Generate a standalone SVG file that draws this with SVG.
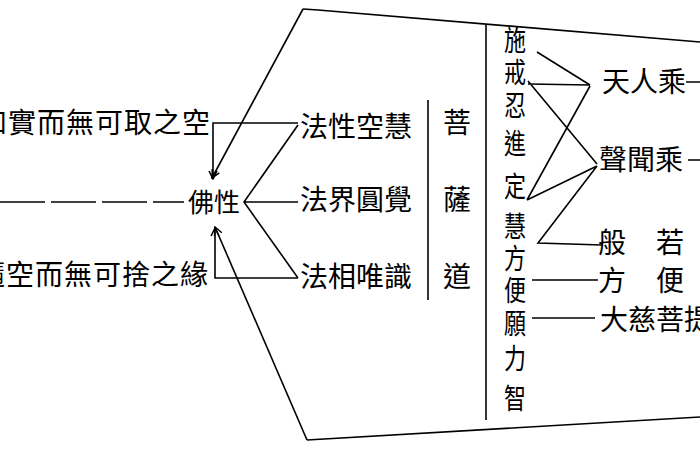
<svg xmlns="http://www.w3.org/2000/svg" width="700" height="470" viewBox="0 0 700 470">
<style>
.t{font-family:"Noto Sans CJK TC","Noto Sans CJK SC",sans-serif;fill:#000}
.l{fill:none;stroke:#000;stroke-width:1.6}
</style>
<defs>
<marker id="ah" markerWidth="10" markerHeight="10" refX="9" refY="5" orient="auto" markerUnits="userSpaceOnUse">
<path d="M1,1 L9,5 L1,9" fill="none" stroke="#000" stroke-width="1.5"/>
</marker>
</defs>
<rect width="700" height="470" fill="#fff"/>
<g id="connectors">
<path class="l" d="M303,9 L318,10 L700,42"/>
<path class="l" d="M303,9 L212,178" marker-end="url(#ah)"/>
<path class="l" d="M700,417 L307,440"/>
<path class="l" d="M307,440 L215,227" marker-end="url(#ah)"/>
<path class="l" d="M0,202 L184,202" stroke-dasharray="45 6"/>
<path class="l" d="M298,123 L213,123 L213,179" marker-end="url(#ah)"/>
<path class="l" d="M298,125 L244,202 L298,278 M244,202 L298,202"/>
<path class="l" d="M298,278 L215,278 L215,228" marker-end="url(#ah)"/>
<path class="l" d="M428,100 L428,300"/>
<path class="l" d="M486,25 L486,420"/>
<path class="l" d="M537,52 L590,85 M528,84 L590,85 M528,81 L597,164 M590,86 L527,200 M597,166 L527,200 M597,166 L538,243 L602,245"/>
<path class="l" d="M532,280 L598,280 M532,318 L595,318"/>
<path class="l" d="M686,82 L700,82 M688,160 L700,160"/>
</g>
<g id="n-kong"><text class="t" x="-21" y="133" font-size="28" letter-spacing="1">如實而無可取之空</text></g>
<g id="n-yuan"><text class="t" x="-23" y="285" font-size="28" letter-spacing="1">隨空而無可捨之緣</text></g>
<g id="n-foxing"><text class="t" x="188" y="212" font-size="26">佛性</text></g>
<g id="n-kongwei"><text class="t" x="300" y="137" font-size="28">法性空慧</text></g>
<g id="n-yuanjue"><text class="t" x="300" y="210" font-size="28">法界圓覺</text></g>
<g id="n-weishi"><text class="t" x="300" y="287" font-size="28">法相唯識</text></g>
<g id="n-pusadao" class="t" font-size="28" text-anchor="middle">
<text x="457" y="133">菩</text><text x="457" y="210">薩</text><text x="457" y="287">道</text>
</g>
<g id="n-paramita" class="t" font-size="22" text-anchor="middle" transform="translate(515,0) scale(1,1.3)">
<text x="0" y="39.2">施</text><text x="0" y="63.8">戒</text><text x="0" y="89.2">忍</text><text x="0" y="118.4">進</text><text x="0" y="151.5">定</text><text x="0" y="182.2">慧</text><text x="0" y="206.9">方</text><text x="0" y="231.5">便</text><text x="0" y="256.9">願</text><text x="0" y="283.8">力</text><text x="0" y="314.6">智</text>
</g>
<g id="n-tianren"><text class="t" x="602" y="92" font-size="28">天人乘</text></g>
<g id="n-shengwen"><text class="t" x="599" y="170" font-size="28">聲聞乘</text></g>
<g id="n-bore" class="t" font-size="28" text-anchor="middle">
<text x="612" y="253">般</text><text x="670" y="253">若</text><text x="612" y="291">方</text><text x="670" y="291">便</text>
</g>
<g id="n-dacibeti"><text class="t" x="600" y="330" font-size="28">大慈菩提</text></g>
</svg>
